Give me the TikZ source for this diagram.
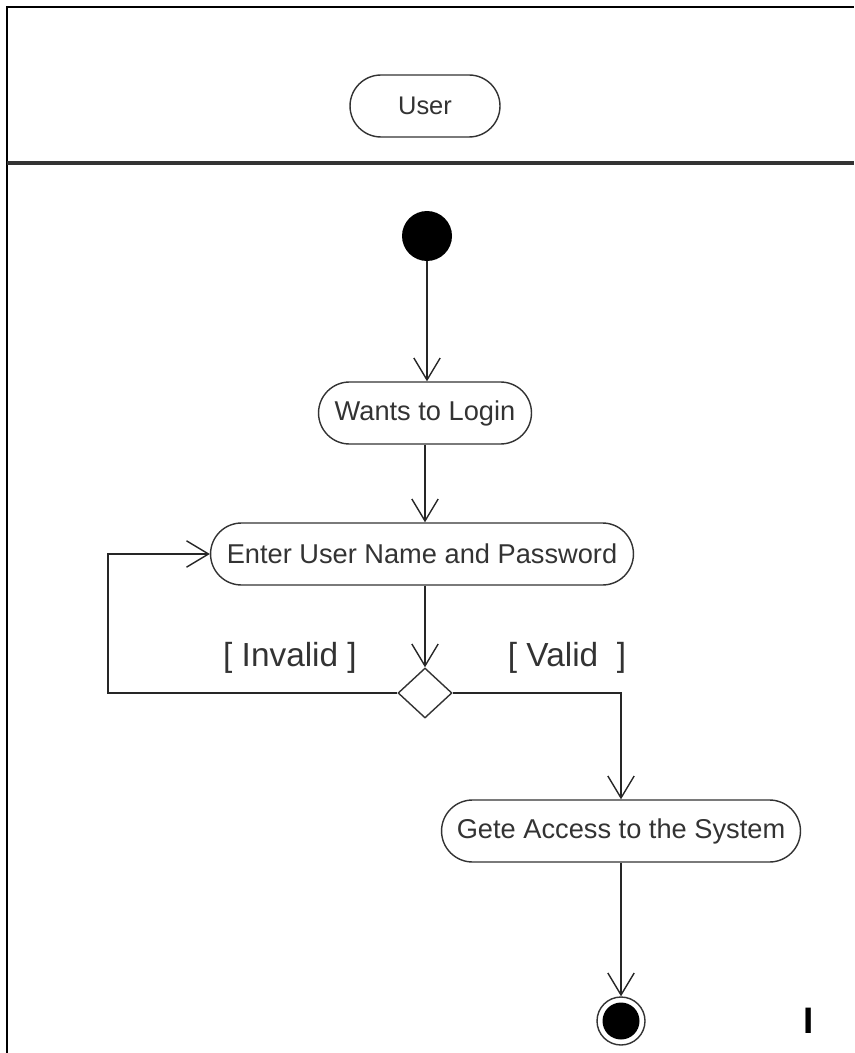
\documentclass[tikz,border=0pt]{standalone}
\usepackage{fontspec}
\setmainfont{Liberation Sans}
\usetikzlibrary{shapes.misc,shapes.geometric,arrows.meta}
\begin{document}
\begin{tikzpicture}[x=0.02cm,y=-0.02cm,
 act/.style={rounded rectangle, draw=black!80, line width=0.8pt, minimum height=1.24cm, inner sep=0pt, text=black!80, font=\fontsize{15.5}{18}\selectfont},
 flow/.style={draw=black!85, line width=0.8pt, -{Straight Barb[length=12.5pt,width=15pt,line width=0.8pt]}},
 guard/.style={text=black!80, font=\fontsize{19}{22}\selectfont}]
\useasboundingbox (0,0) rectangle (854,1053);
\draw[line width=1.2pt] (7,1053) -- (7,7) -- (854,7);
\draw[line width=2.2pt, black!80] (7,163) -- (854,163);
\node[act, minimum width=3cm, font=\fontsize{14.5}{16}\selectfont] (user) at (425,106) {User};
\node[circle, fill=black, minimum size=1cm, inner sep=0pt] (start) at (427,236) {};
\node[act, minimum width=4.26cm] (wants) at (425,413) {Wants to Login};
\node[act, minimum width=8.46cm] (enter) at (422,554) {Enter User Name and Password};
\node[diamond, draw=black!80, line width=0.8pt, minimum width=1.08cm, minimum height=1cm, inner sep=0pt] (dec) at (425,693) {};
\node[act, minimum width=7.18cm] (gete) at (621,831) {Gete Access to the System};
\node[circle, draw=black!80, line width=0.8pt, minimum size=0.96cm, inner sep=0pt] (end) at (621,1021) {};
\fill (end.center) circle (0.37cm);
\node[guard] (inv) at (290,658) {[ Invalid ]};
\node[guard] (val) at (567,658) {[ Valid\ \ ]};
\node[font=\fontsize{21}{24}\bfseries\selectfont] (mark) at (809,1021) {I};
\coordinate (lc) at (108,0);
\draw[flow] (start.south) -- (start.south |- wants.north);
\draw[flow] (wants.south) -- (wants.south |- enter.north);
\draw[flow] (enter.south -| dec.north) -- (dec.north);
\draw[flow] (dec.west) -- (dec.west -| lc) |- (enter.west);
\draw[flow] (dec.east) -| (gete.north);
\draw[flow] (gete.south) -- (end.north);
\end{tikzpicture}
\end{document}
